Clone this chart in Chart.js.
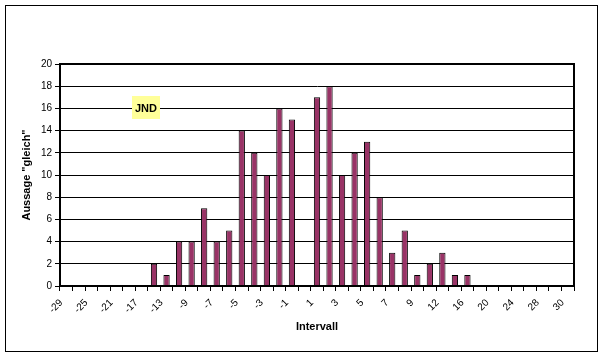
<!DOCTYPE html>
<html>
<head>
<meta charset="utf-8">
<script src="https://cdn.jsdelivr.net/npm/chart.js@4/dist/chart.umd.min.js"></script>
<style>
  html, body { margin: 0; padding: 0; background: #fff; }
  #wrap { width: 603px; height: 357px; position: relative; }
</style>
</head>
<body>
<div id="wrap"><canvas id="c" width="603" height="357"></canvas></div>
<script>
// ---- data ----
const categories = [-29, -27, -25, -23, -21, -19, -17, -15, -13, -11, -9, -8, -7, -6, -5, -4, -3, -2, -1, 0,
                    1, 2, 3, 4, 5, 6, 7, 8, 9, 10, 12, 14, 16, 18, 20, 22, 24, 26, 28, 29, 30];
const tickLabels = [-29, -25, -21, -17, -13, -9, -7, -5, -3, -1, 1, 3, 5, 7, 9, 12, 16, 20, 24, 28, 30];
const gleich = [0, 0, 0, 0, 0, 0, 0, 2, 1, 4, 4, 7, 4, 5, 14, 12, 10, 16, 15, 0,
                17, 18, 10, 12, 13, 8, 3, 5, 1, 2, 3, 1, 1, 0, 0, 0, 0, 0, 0, 0, 0];
const yTicks = [0, 2, 4, 6, 8, 10, 12, 14, 16, 18, 20];
const annotationText = 'JND';
const annotationAt = { x: 6.36, y: 16.05 };

const FONT = 'Liberation Sans, Arial, sans-serif';

const framePlugin = {
  id: 'frame',
  beforeDraw(chart) {
    const ctx = chart.ctx;
    ctx.save();
    ctx.fillStyle = '#fff';
    ctx.fillRect(0, 0, chart.width, chart.height);
    ctx.strokeStyle = '#000';
    ctx.lineWidth = 1;
    ctx.strokeRect(5.5, 5.5, 592, 346);
    ctx.restore();
  },
  afterDatasetsDraw(chart) {
    const ctx = chart.ctx;
    const a = chart.chartArea;
    ctx.save();
    ctx.strokeStyle = '#000';
    ctx.lineWidth = 2;
    ctx.strokeRect(a.left, a.top, a.right - a.left, a.bottom - a.top);
    // annotation box
    const xs = chart.scales.x, ys = chart.scales.y;
    const cx = xs.getPixelForValue(annotationAt.x);
    const cy = ys.getPixelForValue(annotationAt.y);
    ctx.font = 'bold 11px ' + FONT;
    const w = ctx.measureText(annotationText).width + 6;
    const h = 23;
    ctx.fillStyle = '#FFFF99';
    ctx.fillRect(Math.round(cx - w / 2), Math.round(cy - h / 2), Math.round(w), h);
    ctx.fillStyle = '#000';
    ctx.textAlign = 'center';
    ctx.textBaseline = 'middle';
    ctx.fillText(annotationText, cx, cy + 1);
    ctx.restore();
  }
};

new Chart(document.getElementById('c'), {
  type: 'bar',
  data: {
    labels: categories,
    datasets: [{
      data: gleich,
      backgroundColor: '#993366',
      borderColor: '#000',
      borderWidth: 1,
      barPercentage: 0.5,
      categoryPercentage: 1.0
    }]
  },
  options: {
    responsive: false,
    animation: false,
    devicePixelRatio: 1,
    layout: { padding: { left: 6, right: 29, top: 64, bottom: 0 } },
    plugins: { legend: { display: false }, tooltip: { enabled: false } },
    scales: {
      x: {
        offset: true,
        grid: { display: true, drawOnChartArea: false, color: '#000', lineWidth: 1, tickLength: 5, offset: true },
        border: { display: true, color: '#000', width: 2 },
        ticks: {
          autoSkip: false, maxRotation: 45, minRotation: 45, color: '#000',
          font: { family: FONT, size: 10 }, padding: 6, labelOffset: -5,
          callback: function (v, i) {
            const c = categories[i];
            return tickLabels.includes(c) ? String(c) : '';
          }
        },
        title: { display: true, text: 'Intervall', color: '#000',
                 font: { family: FONT, size: 11, weight: 'bold' }, padding: { top: 0, bottom: 23 } },
        afterFit(s) { s.height = 71; }
      },
      y: {
        min: 0, max: 20,
        afterBuildTicks(s) { s.ticks = yTicks.map(v => ({ value: v })); },
        grid: { color: '#000', lineWidth: 1, tickLength: 5 },
        border: { display: true, color: '#000', width: 2 },
        ticks: { color: '#000', font: { family: FONT, size: 10 }, padding: 3 },
        title: { display: true, text: 'Aussage "gleich"', color: '#000',
                 font: { family: FONT, size: 11, weight: 'bold' }, padding: { top: 14, bottom: 0 } },
        afterFit(s) { s.width = 54; }
      }
    }
  },
  plugins: [framePlugin]
});
</script>
</body>
</html>
